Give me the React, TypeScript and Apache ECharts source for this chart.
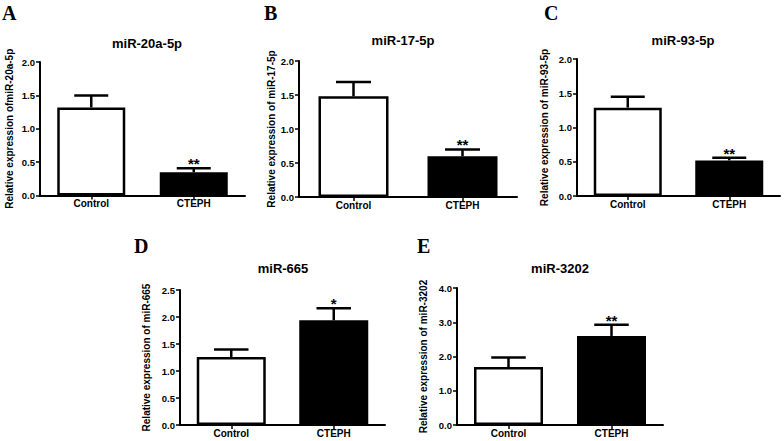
import React, { useEffect, useRef } from "react";
import * as echarts from "echarts";

// ---- data ----
const categories = ["Control", "CTEPH"];
const panelLetters = ["A", "B", "C", "D", "E"];
const titles = ["miR-20a-5p", "miR-17-5p", "miR-93-5p", "miR-665", "miR-3202"];
const yNames = [
  "Relative expression ofmiR-20a-5p",
  "Relative expression of miR-17-5p",
  "Relative expression of miR-93-5p",
  "Relative expression of miR-665",
  "Relative expression of miR-3202",
];
const meanA = [1.32, 0.35];
const meanB = [1.48, 0.6];
const meanC = [1.29, 0.52];
const meanD = [1.26, 1.94];
const meanE = [1.69, 2.6];
const errA = [1.5, 0.41];
const errB = [1.69, 0.7];
const errC = [1.45, 0.56];
const errD = [1.4, 2.16];
const errE = [1.97, 2.93];
const means = [meanA, meanB, meanC, meanD, meanE];
const errTops = [errA, errB, errC, errD, errE];
const yMax = [2, 2, 2, 2.5, 4];
const yInterval = [0.5, 0.5, 0.5, 0.5, 1];
const stars = [
  ["", "**"],
  ["", "**"],
  ["", "**"],
  ["", "*"],
  ["", "**"],
];

// ---- layout (positions / sizes only) ----
const grids = [
  { left: 40, top: 62, width: 205, height: 133.5 },
  { left: 299, top: 61, width: 218, height: 136 },
  { left: 577, top: 59, width: 203, height: 137 },
  { left: 180, top: 290, width: 205, height: 135 },
  { left: 457, top: 288, width: 206, height: 137 },
];
const barWidths = [68, 70, 68, 69, 69];
const nameGaps = [26, 20, 28, 29, 29];
const titlePos = [
  [147, 43],
  [403, 40],
  [683, 40],
  [283, 268],
  [560, 268],
];
const letterPos = [
  [2, 3],
  [264, 3],
  [544, 3],
  [134, 236],
  [417, 236],
];

const SANS = "Arial, 'Liberation Sans', Helvetica, sans-serif";
const SERIF = "'Times New Roman', 'Liberation Serif', serif";

export default function App() {
  const ref = useRef<HTMLDivElement>(null);
  useEffect(() => {
    if (!ref.current) return;
    const chart = echarts.init(ref.current, null, { renderer: "svg" });
    const xAxis: any[] = [];
    const yAxis: any[] = [];
    const series: any[] = [];
    const graphic: any[] = [];
    grids.forEach((g, i) => {
      xAxis.push({
        type: "category",
        gridIndex: i,
        data: categories,
        axisLine: { lineStyle: { color: "#000", width: 2 } },
        axisTick: { show: true, alignWithLabel: true, length: 4, lineStyle: { color: "#000", width: 1.5 } },
        axisLabel: { color: "#000", fontFamily: SANS, fontWeight: "bold", fontSize: 10, margin: 3 },
      });
      yAxis.push({
        type: "value",
        gridIndex: i,
        min: 0,
        max: yMax[i],
        interval: yInterval[i],
        name: yNames[i],
        nameLocation: "middle",
        nameGap: nameGaps[i],
        nameTextStyle: { color: "#000", fontFamily: SANS, fontWeight: "bold", fontSize: 10 },
        splitLine: { show: false },
        axisLine: { show: true, lineStyle: { color: "#000", width: 2 } },
        axisTick: { show: true, length: 4, lineStyle: { color: "#000", width: 1.5 } },
        axisLabel: {
          color: "#000",
          fontFamily: SANS,
          fontWeight: "bold",
          fontSize: 9.5,
          margin: 5,
          formatter: (v: number) => v.toFixed(1),
        },
      });
      series.push({
        type: "bar",
        xAxisIndex: i,
        yAxisIndex: i,
        barWidth: barWidths[i],
        data: means[i].map((v, k) => ({
          value: v,
          itemStyle: {
            color: k === 0 ? "#fff" : "#000",
            borderColor: "#000",
            borderWidth: 2.5,
          },
        })),
      });
      const capHalf = barWidths[i] / 4;
      const starList = stars[i];
      series.push({
        type: "custom",
        xAxisIndex: i,
        yAxisIndex: i,
        z: 3,
        data: means[i].map((v, k) => [k, v, errTops[i][k]]),
        encode: { x: 0, y: [1, 2] },
        renderItem: (params: any, api: any) => {
          const x = api.value(0);
          const p0 = api.coord([x, api.value(1)]);
          const p1 = api.coord([x, api.value(2)]);
          const children: any[] = [
            {
              type: "line",
              shape: { x1: p0[0], y1: p0[1], x2: p1[0], y2: p1[1] },
              style: { stroke: "#000", lineWidth: 2.5 },
            },
            {
              type: "line",
              shape: { x1: p1[0] - capHalf, y1: p1[1], x2: p1[0] + capHalf, y2: p1[1] },
              style: { stroke: "#000", lineWidth: 2.5 },
            },
          ];
          const s = starList[params.dataIndex];
          if (s) {
            children.push({
              type: "text",
              x: p1[0],
              y: p1[1] + 3,
              style: {
                text: s,
                fill: "#000",
                font: `bold 15px ${SANS}`,
                textAlign: "center",
                textVerticalAlign: "bottom",
              },
            });
          }
          return { type: "group", children };
        },
      });
      graphic.push({
        type: "text",
        x: titlePos[i][0],
        y: titlePos[i][1],
        style: {
          text: titles[i],
          fill: "#000",
          font: `bold 13px ${SANS}`,
          textAlign: "center",
          textVerticalAlign: "middle",
        },
      });
      graphic.push({
        type: "text",
        x: letterPos[i][0],
        y: letterPos[i][1],
        style: {
          text: panelLetters[i],
          fill: "#000",
          font: `bold 20px ${SERIF}`,
          textAlign: "left",
          textVerticalAlign: "top",
        },
      });
    });
    chart.setOption({
      animation: false,
      backgroundColor: "#fff",
      grid: grids.map((g) => ({ ...g, containLabel: false })),
      xAxis,
      yAxis,
      series,
      graphic,
    });
    return () => chart.dispose();
  }, []);
  return (
    <div
      ref={ref}
      style={{ position: "fixed", left: 0, top: 0, width: 784, height: 441 }}
    />
  );
}
